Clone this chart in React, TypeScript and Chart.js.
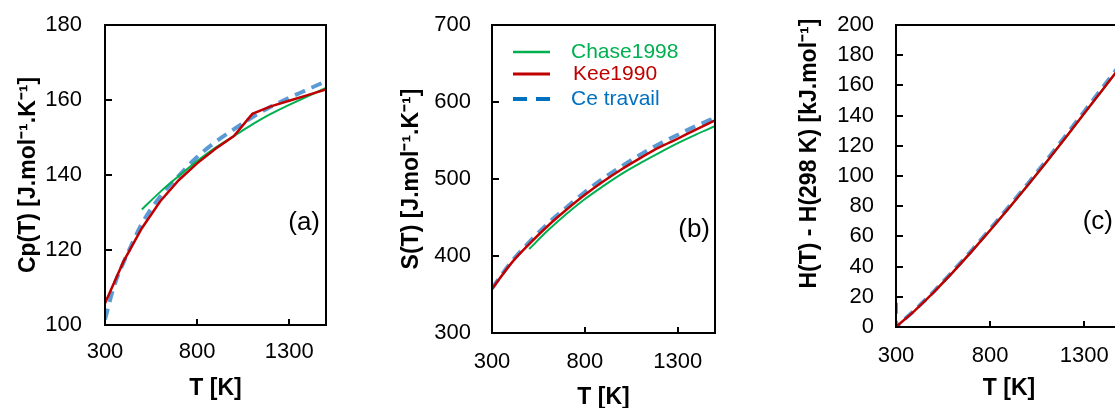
import React, { useEffect, useRef } from 'react';
import { Chart, registerables } from 'chart.js';

Chart.register(...registerables);

// ---------- shared ----------
const xTicks = [300, 800, 1300];
const legendLabels = ['Chase1998', 'Kee1990', 'Ce travail'];

// ---------- panel (a) : Cp(T) ----------
const cpYTicks = [100, 120, 140, 160, 180];
const cpKeeT = [300, 400, 500, 600, 700, 800, 900, 1000, 1100, 1200, 1300, 1400, 1500];
const cpKeeV = [105.8, 116.9, 125.8, 133.0, 138.6, 143.1, 147.0, 150.4, 156.3, 158.3, 159.8, 161.3, 162.8];
const cpChaseT = [500, 600, 700, 800, 900, 1000, 1100, 1200, 1300, 1400, 1500];
const cpChaseV = [130.8, 135.5, 139.7, 143.7, 147.3, 150.4, 153.5, 156.3, 158.7, 161.0, 163.2];
const cpTravailT = [300, 350, 400, 450, 500, 600, 700, 800, 900, 1000, 1100, 1200, 1300, 1400, 1500];
const cpTravailV = [101.5, 110.5, 116.6, 122.0, 127.0, 134.3, 139.8, 144.8, 148.8, 152.2, 155.4, 158.2, 160.6, 162.8, 165.0];

// ---------- panel (b) : S(T) ----------
const sYTicks = [300, 400, 500, 600, 700];
const sKeeT = [300, 400, 500, 600, 700, 800, 900, 1000, 1100, 1200, 1300, 1400, 1500];
const sKeeV = [357, 389.5, 415.5, 439, 460, 479.5, 497, 513, 527.5, 541, 552.5, 564.5, 576];
const sChaseT = [500, 600, 700, 800, 900, 1000, 1100, 1200, 1300, 1400, 1500];
const sChaseV = [409, 433, 454.5, 474, 491, 507, 521, 534, 546.5, 558, 568.5];
const sTravailT = [300, 400, 500, 600, 700, 800, 900, 1000, 1100, 1200, 1300, 1400, 1500];
const sTravailV = [358, 391, 418, 442, 463, 483, 501, 517, 532, 545.5, 557.5, 569, 579.5];

// ---------- panel (c) : H(T) - H(298 K) ----------
const hYTicks = [0, 20, 40, 60, 80, 100, 120, 140, 160, 180, 200];
const hKeeT = [300, 400, 500, 600, 700, 800, 900, 1000, 1100, 1200, 1300, 1400, 1500];
const hKeeV = [0, 10.8, 22.9, 36.0, 49.8, 64.1, 78.8, 93.9, 109.4, 125.3, 141.5, 157.6, 173.8];
const hChaseT = [500, 600, 700, 800, 900, 1000, 1100, 1200, 1300, 1400, 1500];
const hChaseV = [22.9, 36.0, 49.8, 64.1, 78.8, 93.9, 109.4, 125.3, 141.5, 157.6, 173.8];
const hTravailT = [300, 300, 400, 500, 600, 700, 800, 900, 1000, 1100, 1200, 1300, 1400, 1500];
const hTravailV = [16, 0, 11.2, 23.4, 36.6, 50.5, 64.9, 79.7, 94.9, 110.5, 126.5, 142.8, 159.1, 175.4];

const FONT = '"Liberation Sans", Arial, sans-serif';
const GREEN = '#00B050';
const RED = '#C00000';
const BLUE = '#5B9BD5';
const LEGEND_BLUE = '#0070C0';

const pts = (t: number[], v: number[]) => t.map((x, i) => ({ x, y: v[i] }));

type PanelCfg = {
  canvasLeft: number;
  canvasWidth: number;
  yAxisWidth: number;
  padRight: number;
  xAxisHeight: number;
  yTitle: string;
  yTitlePad: number;
  yTickPad: number;
  xTickPad: number;
  xTitlePad: number;
  yMin: number;
  yMax: number;
  yTicks: number[];
  kee: [number[], number[]];
  chase: [number[], number[]];
  travail: [number[], number[]];
  smooth: boolean;
  keeSmooth: boolean;
  label: string;
  labelX: number;
  labelY: number;
  legend: boolean;
};

const CANVAS_H = 430;

const panels: PanelCfg[] = [
  {
    canvasLeft: 0, canvasWidth: 340, yAxisWidth: 105, padRight: 14, xAxisHeight: 105,
    yTitle: 'Cp(T) [J.mol⁻¹.K⁻¹]', yTitlePad: 15, yTickPad: 23, xTickPad: 14, xTitlePad: 28,
    yMin: 100, yMax: 180, yTicks: cpYTicks,
    kee: [cpKeeT, cpKeeV], chase: [cpChaseT, cpChaseV], travail: [cpTravailT, cpTravailV],
    smooth: true, keeSmooth: false, label: '(a)', labelX: 320, labelY: 223, legend: false,
  },
  {
    canvasLeft: 380, canvasWidth: 360, yAxisWidth: 112, padRight: 25, xAxisHeight: 97,
    yTitle: 'S(T) [J.mol⁻¹.K⁻¹]', yTitlePad: 18, yTickPad: 21, xTickPad: 16, xTitlePad: 19,
    yMin: 300, yMax: 700, yTicks: sYTicks,
    kee: [sKeeT, sKeeV], chase: [sChaseT, sChaseV], travail: [sTravailT, sTravailV],
    smooth: true, keeSmooth: true, label: '(b)', labelX: 330, labelY: 230, legend: true,
  },
  {
    canvasLeft: 780, canvasWidth: 360, yAxisWidth: 116, padRight: 18, xAxisHeight: 103,
    yTitle: '       H(T) - H(298 K) [kJ.mol⁻¹]', yTitlePad: 16, yTickPad: 22, xTickPad: 16, xTitlePad: 28,
    yMin: 0, yMax: 200, yTicks: hYTicks,
    kee: [hKeeT, hKeeV], chase: [hChaseT, hChaseV], travail: [hTravailT, hTravailV],
    smooth: false, keeSmooth: false, label: '(c)', labelX: 333, labelY: 222, legend: false,
  },
];

function makeChart(canvas: HTMLCanvasElement, p: PanelCfg) {
  const framePlugin = {
    id: 'frameTicks',
    afterDraw(chart: any) {
      const { ctx, chartArea: a, scales } = chart;
      ctx.save();
      ctx.strokeStyle = '#000';
      ctx.lineWidth = 2;
      ctx.strokeRect(a.left, a.top, a.right - a.left, a.bottom - a.top);
      ctx.beginPath();
      for (const t of xTicks) {
        const px = Math.round(scales.x.getPixelForValue(t));
        ctx.moveTo(px, a.bottom);
        ctx.lineTo(px, a.bottom - 6);
      }
      for (const v of p.yTicks) {
        const py = Math.round(scales.y.getPixelForValue(v));
        ctx.moveTo(a.left, py);
        ctx.lineTo(a.left + 7, py);
      }
      ctx.stroke();

      ctx.fillStyle = '#000';
      ctx.font = `26px ${FONT}`;
      ctx.textAlign = 'right';
      ctx.textBaseline = 'middle';
      ctx.fillText(p.label, p.labelX, p.labelY);

      if (p.legend) {
        const items = [
          { text: legendLabels[0], color: GREEN, dash: [] as number[], w: 2.5, y: 52, tx: 191 },
          { text: legendLabels[1], color: RED, dash: [] as number[], w: 3, y: 74, tx: 193 },
          { text: legendLabels[2], color: LEGEND_BLUE, dash: [14, 9], w: 4, y: 99, tx: 191 },
        ];
        ctx.font = `21px ${FONT}`;
        ctx.textAlign = 'left';
        for (const it of items) {
          ctx.beginPath();
          ctx.setLineDash(it.dash);
          ctx.strokeStyle = it.color;
          ctx.lineWidth = it.w;
          ctx.moveTo(133, it.y);
          ctx.lineTo(170, it.y);
          ctx.stroke();
          ctx.setLineDash([]);
          ctx.fillStyle = it.color;
          ctx.fillText(it.text, it.tx, it.y);
        }
      }
      ctx.restore();
    },
  };

  const tickFont = { family: FONT, size: 22 };
  const titleFont = { family: FONT, size: 23, weight: 'bold' as const };

  return new Chart(canvas, {
    type: 'line',
    data: {
      datasets: [
        {
          label: legendLabels[1],
          data: pts(p.kee[0], p.kee[1]),
          borderColor: RED,
          borderWidth: 2.5,
          cubicInterpolationMode: p.keeSmooth ? 'monotone' : 'default',
          tension: 0,
          pointRadius: 0,
          fill: false,
          order: 0,
        },
        {
          label: legendLabels[0],
          data: pts(p.chase[0], p.chase[1]),
          borderColor: GREEN,
          borderWidth: 2,
          cubicInterpolationMode: p.smooth ? 'monotone' : 'default',
          tension: 0,
          pointRadius: 0,
          fill: false,
          order: 1,
        },
        {
          label: legendLabels[2],
          data: pts(p.travail[0], p.travail[1]),
          borderColor: BLUE,
          borderWidth: 4,
          borderDash: [11, 7],
          cubicInterpolationMode: p.smooth ? 'monotone' : 'default',
          tension: 0,
          pointRadius: 0,
          fill: false,
          order: 2,
        },
      ],
    },
    options: {
      responsive: false,
      animation: false,
      events: [],
      layout: { padding: { left: 0, top: 25, right: p.padRight, bottom: 0 } },
      plugins: { legend: { display: false }, tooltip: { enabled: false } },
      scales: {
        x: {
          type: 'linear',
          min: 300,
          max: 1500,
          afterBuildTicks: (s: any) => { s.ticks = xTicks.map((v) => ({ value: v })); },
          afterFit: (s: any) => {
            s.height = p.xAxisHeight;
            s.paddingLeft = 0; s.paddingRight = 0; s.paddingTop = 0; s.paddingBottom = 0;
          },
          grid: { display: false, drawTicks: false },
          border: { display: false },
          ticks: {
            padding: p.xTickPad, font: tickFont, color: '#000', autoSkip: false, maxRotation: 0,
            callback: (v: any) => String(v),
          },
          title: { display: true, text: 'T [K]', font: titleFont, color: '#000', padding: { top: 0, bottom: p.xTitlePad } },
        },
        y: {
          type: 'linear',
          min: p.yMin,
          max: p.yMax,
          afterBuildTicks: (s: any) => { s.ticks = p.yTicks.map((v) => ({ value: v })); },
          afterFit: (s: any) => {
            s.width = p.yAxisWidth;
            s.paddingLeft = 0; s.paddingRight = 0; s.paddingTop = 0; s.paddingBottom = 0;
          },
          grid: { display: false, drawTicks: false },
          border: { display: false },
          ticks: { padding: p.yTickPad, font: tickFont, color: '#000', callback: (v: any) => String(v) },
          title: { display: true, text: p.yTitle, font: titleFont, color: '#000', padding: { top: p.yTitlePad, bottom: 0 } },
        },
      },
    } as any,
    plugins: [framePlugin],
  });
}

export default function App() {
  const refs = [useRef<HTMLCanvasElement>(null), useRef<HTMLCanvasElement>(null), useRef<HTMLCanvasElement>(null)];

  useEffect(() => {
    const charts = panels.map((p, i) => makeChart(refs[i].current as HTMLCanvasElement, p));
    return () => charts.forEach((c) => c.destroy());
  }, []);

  return (
    <div style={{ position: 'fixed', left: 0, top: 0, width: 1115, height: 408, overflow: 'hidden', background: '#fff' }}>
      {panels.map((p, i) => (
        <canvas
          key={i}
          ref={refs[i]}
          width={p.canvasWidth}
          height={CANVAS_H}
          style={{ position: 'absolute', left: p.canvasLeft, top: 0, width: p.canvasWidth, height: CANVAS_H }}
        />
      ))}
    </div>
  );
}
